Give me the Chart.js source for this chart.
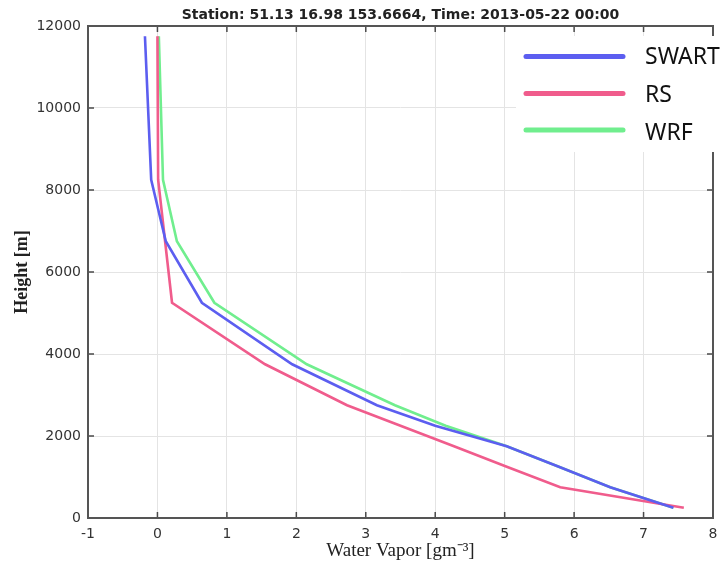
<!DOCTYPE html>
<html>
<head>
<meta charset="utf-8">
<script src="https://cdn.jsdelivr.net/npm/chart.js@4"></script>
<style>
  html, body { margin: 0; padding: 0; background: #fff; }
  #wrap { width: 726px; height: 563px; position: relative; }
</style>
</head>
<body>
<div id="wrap"><canvas id="c"></canvas></div>
<script>
// ---- data ----
const heights = [11750, 8250, 6750, 5250, 3750, 2750, 2250, 1750, 1250, 750, 250];
const swart   = [-0.18, -0.09, 0.12, 0.64, 1.94, 3.16, 4.00, 5.03, 5.78, 6.52, 7.43];
const rs      = [0.00, 0.01, 0.11, 0.21, 1.55, 2.73, 3.50, 4.27, 5.03, 5.80, 7.58];
const wrf     = [0.02, 0.08, 0.28, 0.82, 2.15, 3.42, 4.15, 5.03, 5.78, 6.52, 7.43];
const seriesNames = ['SWART', 'RS', 'WRF'];
const xTicks = [-1, 0, 1, 2, 3, 4, 5, 6, 7, 8];
const yTicks = [0, 2000, 4000, 6000, 8000, 10000, 12000];
const titleText = 'Station: 51.13 16.98 153.6664, Time: 2013-05-22 00:00';
const xTitle = 'Water Vapor [gm\u207B\u00B3]';
const yTitle = 'Height [m]';

const colors = ['rgb(92,94,240)', 'rgb(240,92,140)', 'rgb(112,238,142)'];
const seriesValues = [swart, rs, wrf];

const datasets = seriesValues.map((vals, i) => ({
  label: seriesNames[i],
  data: vals.map((v, k) => ({ x: v, y: heights[k] })),
  showLine: true,
  borderColor: colors[i],
  backgroundColor: colors[i],
  borderWidth: 2.6,
  pointRadius: 0,
  fill: false,
  tension: 0
}));

const frameTicks = {
  id: 'frameTicks',
  beforeDatasetsDraw(chart) {
    const { ctx, chartArea: a, scales: { x, y } } = chart;
    ctx.save();
    ctx.strokeStyle = '#4a4a4a';
    ctx.lineWidth = 1.5;
    const L = 6;
    ctx.beginPath();
    xTicks.forEach(t => {
      const px = x.getPixelForValue(t);
      ctx.moveTo(px, a.bottom); ctx.lineTo(px, a.bottom - L);
      ctx.moveTo(px, a.top); ctx.lineTo(px, a.top + L);
    });
    yTicks.forEach(t => {
      const py = y.getPixelForValue(t);
      ctx.moveTo(a.left, py); ctx.lineTo(a.left + L, py);
      ctx.moveTo(a.right, py); ctx.lineTo(a.right - L, py);
    });
    ctx.stroke();
    ctx.lineWidth = 2;
    ctx.strokeStyle = '#555';
    ctx.strokeRect(a.left, a.top, a.right - a.left, a.bottom - a.top);
    ctx.restore();
  },
  afterDraw(chart) {
    const { ctx, chartArea: a } = chart;
    ctx.save();
    // title centred over the plot area
    ctx.fillStyle = '#222';
    ctx.font = 'bold 14px "DejaVu Sans"';
    ctx.textAlign = 'center';
    ctx.textBaseline = 'middle';
    ctx.fillText(titleText, (a.left + a.right) / 2, 15);
    // legend
    ctx.fillStyle = '#fff';
    ctx.fillRect(516, 36, 210, 116);
    const lineY = [56.5, 93.5, 130];
    const textY = [57, 95, 133];
    chart.data.datasets.forEach((ds, i) => {
      ctx.strokeStyle = ds.borderColor;
      ctx.lineWidth = 5;
      ctx.lineCap = 'round';
      ctx.beginPath();
      ctx.moveTo(526, lineY[i]);
      ctx.lineTo(623, lineY[i]);
      ctx.stroke();
      ctx.fillStyle = '#111';
      ctx.font = '23px "Noto Sans"';
      ctx.textBaseline = 'middle';
      ctx.textAlign = 'left';
      ctx.fillText(ds.label, 645, textY[i]);
    });
    ctx.restore();
  }
};

new Chart(document.getElementById('c'), {
  type: 'scatter',
  data: { datasets },
  options: {
    responsive: true,
    maintainAspectRatio: false,
    animation: false,
    layout: { padding: { left: 0, right: 13, top: 26, bottom: 0 } },
    plugins: {
      legend: { display: false },
      tooltip: { enabled: false },
      title: { display: false }
    },
    scales: {
      x: {
        type: 'linear',
        min: -1, max: 8,
        afterFit(s) { s.height = 45; },
        afterBuildTicks(s) { s.ticks = xTicks.map(v => ({ value: v })); },
        grid: { color: '#e4e4e4', lineWidth: 1, drawTicks: false },
        border: { display: false },
        ticks: { color: '#333', padding: 8, font: { family: 'DejaVu Sans', size: 14 },
                 callback: v => String(v) },
        title: {
          display: true, text: xTitle, color: '#222',
          font: { family: 'Liberation Serif', size: 19 },
          padding: { top: 0, bottom: 1 }
        }
      },
      y: {
        type: 'linear',
        min: 0, max: 12000,
        afterFit(s) { s.width = 88; },
        afterBuildTicks(s) { s.ticks = yTicks.map(v => ({ value: v })); },
        grid: { color: '#e4e4e4', lineWidth: 1, drawTicks: false },
        border: { display: false },
        ticks: { color: '#333', padding: 7, font: { family: 'DejaVu Sans', size: 14 },
                 callback: v => String(v) },
        title: {
          display: true, text: yTitle, color: '#222',
          font: { family: 'Liberation Serif', size: 18, weight: 'bold' },
          padding: { top: 12, bottom: 0 }
        }
      }
    }
  },
  plugins: [frameTicks]
});
</script>
</body>
</html>
